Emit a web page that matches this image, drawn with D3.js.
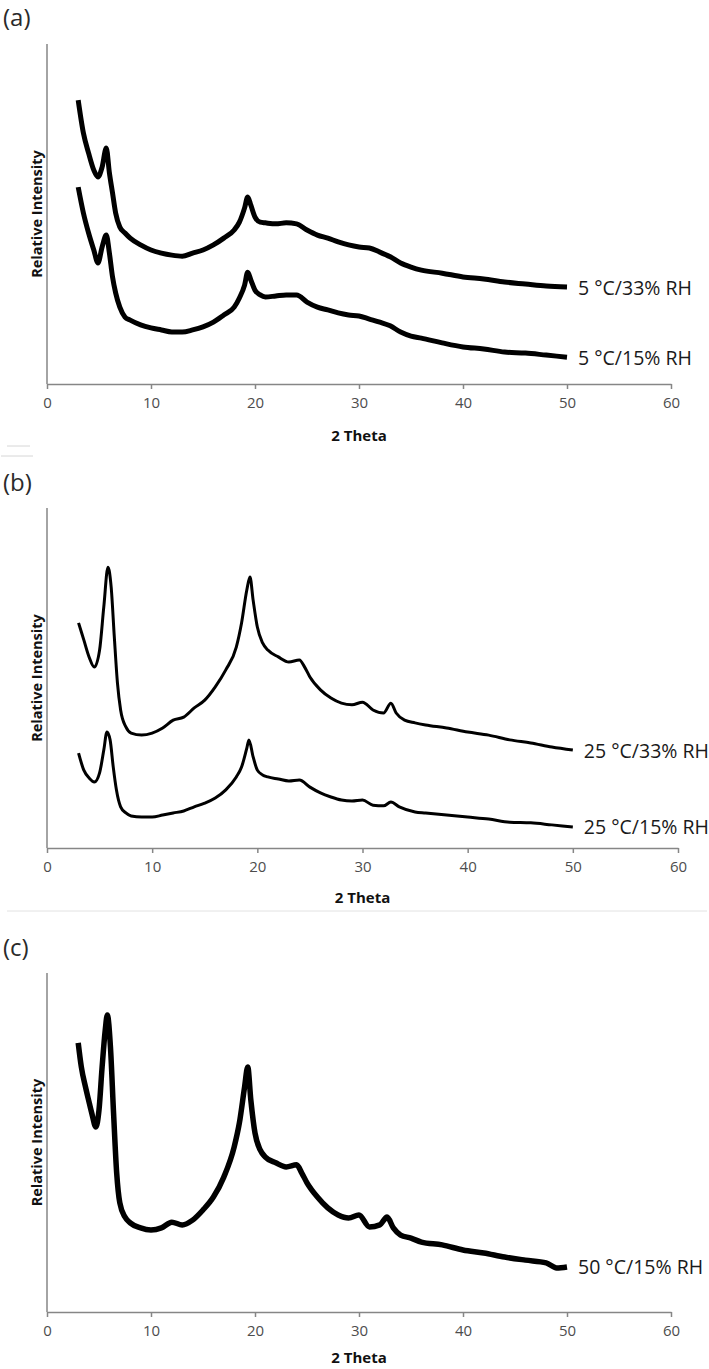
<!DOCTYPE html>
<html>
<head>
<meta charset="utf-8">
<script src="https://cdn.jsdelivr.net/npm/d3@7"></script>
<style>
body { margin: 0; background: #fff; }
</style>
</head>
<body>
<div id="chart"></div>
<script>
// 2 Theta positions and relative intensities
var thetaA = [3, 3.5, 4, 4.5, 4.9, 5.3, 5.7, 6, 6.3, 6.6, 7, 7.5, 8, 9, 10, 11, 12, 13, 14, 15, 16, 17, 18, 18.5, 19, 19.3, 19.6, 20, 20.5, 21, 22, 23, 24, 25, 26, 27, 28, 29, 30, 31, 32, 33, 34, 35, 36, 38, 40, 42, 44, 46, 48, 50];
var a33 = [83.5, 73.8, 67.9, 62.9, 60.9, 63.8, 69.4, 62.1, 56.2, 50.3, 46.2, 44.4, 42.9, 40.9, 39.4, 38.5, 37.9, 37.6, 38.5, 39.4, 40.9, 42.9, 45.3, 47.6, 51.8, 55.0, 52.6, 49.1, 47.6, 47.4, 47.1, 47.4, 47.1, 45.3, 43.8, 42.9, 41.8, 40.9, 40.3, 40.0, 38.8, 37.4, 35.6, 34.4, 33.5, 32.6, 31.5, 30.9, 30.0, 29.4, 28.8, 28.5];
var a15 = [57.9, 50.3, 44.4, 39.4, 35.6, 40.3, 43.8, 38.5, 31.5, 26.8, 22.6, 19.7, 18.8, 17.4, 16.5, 15.9, 15.3, 15.3, 15.9, 16.8, 18.2, 20.3, 22.6, 25.3, 29.1, 32.9, 30.6, 27.6, 26.2, 25.6, 25.9, 26.2, 26.2, 24.1, 22.6, 21.8, 20.9, 20.3, 20.0, 19.1, 18.2, 17.1, 15.3, 14.1, 13.5, 12.1, 10.9, 10.3, 9.4, 9.1, 8.5, 7.9];

var thetaB33 = [3, 3.5, 4, 4.5, 5, 5.4, 5.8, 6.1, 6.4, 6.7, 7, 7.5, 8, 9, 10, 11, 12, 13, 14, 15, 16, 17, 18, 18.5, 19, 19.3, 19.6, 20, 20.5, 21, 22, 23, 24, 24.5, 25, 26, 27, 28, 29, 30, 31, 32, 32.7, 33.2, 34, 35, 36, 38, 40, 42, 44, 46, 48, 50];
var b33 = [66.2, 61.2, 56.2, 53.2, 58.2, 70.9, 82.6, 76.8, 62.1, 48.5, 40.6, 35.6, 33.8, 33.2, 33.8, 35.3, 37.6, 38.5, 41.2, 43.5, 47.4, 52.4, 59.1, 66.2, 75.9, 79.7, 72.9, 65.0, 60.3, 58.2, 56.2, 54.7, 55.3, 53.2, 50.3, 46.5, 44.1, 42.6, 42.1, 42.9, 40.6, 39.7, 42.6, 39.7, 37.6, 36.8, 36.2, 35.3, 34.1, 33.2, 31.8, 30.9, 29.7, 28.8];
var thetaB15 = [3, 3.5, 4, 4.5, 5, 5.4, 5.7, 6, 6.3, 6.6, 7, 7.5, 8, 9, 10, 11, 12, 13, 14, 15, 16, 17, 18, 18.5, 19, 19.2, 19.6, 20, 20.5, 21, 22, 23, 24, 25, 26, 27, 28, 29, 30, 31, 32, 32.7, 33.5, 35, 36, 38, 40, 42, 44, 46, 48, 50];
var b15 = [27.9, 22.9, 20.6, 19.4, 22.1, 28.8, 34.1, 31.8, 23.8, 17.1, 12.1, 10.3, 9.4, 9.1, 9.1, 9.7, 10.3, 10.9, 12.1, 13.2, 14.7, 17.1, 20.9, 23.8, 29.4, 31.8, 26.8, 22.9, 21.5, 20.9, 20.3, 19.7, 20.0, 17.9, 16.2, 15.0, 14.1, 13.8, 14.1, 12.6, 12.4, 13.5, 12.1, 10.6, 10.3, 9.7, 9.1, 8.5, 7.6, 7.4, 6.8, 6.2];

var thetaC = [3, 3.3, 3.7, 4, 4.3, 4.7, 5, 5.3, 5.6, 5.8, 6.1, 6.4, 6.7, 7, 7.5, 8, 9, 10, 11, 12, 13, 14, 15, 16, 17, 18, 18.5, 19, 19.3, 19.6, 20, 20.5, 21, 22, 23, 24, 24.5, 25, 26, 27, 28, 29, 30, 31, 32, 32.7, 33.3, 34, 35, 36, 38, 40, 42, 44, 46, 48, 49, 50];
var c15 = [79.4, 72.3, 66.4, 62.5, 58.7, 54.6, 59.6, 72.3, 83.2, 87.6, 78.2, 58.7, 41.0, 32.2, 28.0, 26.3, 24.8, 24.2, 24.8, 26.5, 25.7, 27.1, 30.1, 33.9, 39.8, 48.7, 55.8, 66.4, 72.3, 62.5, 52.8, 47.8, 45.7, 44.0, 42.8, 43.4, 41.0, 38.1, 33.9, 30.7, 28.6, 27.7, 28.6, 25.1, 25.7, 28.0, 24.8, 22.7, 21.8, 20.6, 19.8, 18.3, 17.4, 16.2, 15.3, 14.5, 13.0, 13.3];

var xTicks = [0, 10, 20, 30, 40, 50, 60];
var seriesNames = ['5 °C/33% RH', '5 °C/15% RH', '25 °C/33% RH', '25 °C/15% RH', '50 °C/15% RH'];

var svg = d3.select('#chart')
  .append('svg')
  .attr('width', 709)
  .attr('height', 1369)
  .style('font-family', '"Open Sans", sans-serif');

// light separators between the panels
svg.append('line').attr('x1', 7).attr('x2', 30).attr('y1', 446).attr('y2', 446).style('stroke', '#d6d6d6');
svg.append('line').attr('x1', 1).attr('x2', 33).attr('y1', 456).attr('y2', 456).style('stroke', '#d6d6d6');
svg.append('line').attr('x1', 7).attr('x2', 707).attr('y1', 911).attr('y2', 911).style('stroke', '#e2e2e2');

function drawPanel(p) {
  var x = d3.scaleLinear().domain([0, 60]).range([47, p.right]);
  var y = d3.scaleLinear().domain([0, 100]).range([p.bottom, p.top]);

  svg.append('text')
    .attr('x', 3)
    .attr('y', p.tagY)
    .attr('dominant-baseline', 'central')
    .style('font-size', '24px')
    .style('fill', '#2a2a2a')
    .text(p.tag);

  // y axis: plain line, no ticks
  svg.append('line')
    .attr('x1', x(0)).attr('x2', x(0))
    .attr('y1', y(100)).attr('y2', y(0))
    .style('stroke', '#868686')
    .style('stroke-width', 1.5);

  var xAxis = svg.append('g')
    .attr('transform', 'translate(0,' + p.bottom + ')')
    .call(d3.axisBottom(x).tickValues(xTicks).tickSizeInner(5).tickSizeOuter(0).tickPadding(8));
  xAxis.select('.domain').style('stroke', '#868686').style('stroke-width', 1.5);
  xAxis.selectAll('.tick line').style('stroke', '#868686').style('stroke-width', 1.5);
  xAxis.selectAll('.tick text')
    .style('font-size', '15px')
    .style('font-family', '"Open Sans", sans-serif')
    .style('fill', '#4d4d4d');

  svg.append('text')
    .attr('x', (x(0) + x(60)) / 2)
    .attr('y', p.titleY)
    .attr('text-anchor', 'middle')
    .attr('dominant-baseline', 'central')
    .style('font-size', '15px')
    .style('font-weight', 'bold')
    .style('fill', '#111')
    .text('2 Theta');

  svg.append('text')
    .attr('transform', 'translate(36,' + ((p.top + p.bottom) / 2) + ') rotate(-90)')
    .attr('text-anchor', 'middle')
    .attr('dominant-baseline', 'central')
    .style('font-size', '14.5px')
    .style('font-weight', 'bold')
    .style('fill', '#111')
    .text('Relative Intensity');

  var line = d3.line()
    .x(function(d) { return x(d[0]); })
    .y(function(d) { return y(d[1]); })
    .curve(d3.curveMonotoneX);

  p.series.forEach(function(s) {
    var pts = d3.zip(s.theta, s.values);
    svg.append('path')
      .datum(pts)
      .attr('d', line)
      .style('fill', 'none')
      .style('stroke', '#000')
      .style('stroke-width', s.width)
      .style('stroke-linejoin', 'round');

    var last = pts[pts.length - 1];
    svg.append('text')
      .attr('x', x(last[0]) + 11)
      .attr('y', y(last[1]))
      .attr('dominant-baseline', 'central')
      .style('font-size', '19.5px')
      .style('fill', '#1a1a1a')
      .text(s.label);
  });
}

drawPanel({
  tag: '(a)', tagY: 16, top: 44, bottom: 384, right: 671, titleY: 435,
  series: [
    {theta: thetaA, values: a33, label: seriesNames[0], width: 5},
    {theta: thetaA, values: a15, label: seriesNames[1], width: 5}
  ]
});

drawPanel({
  tag: '(b)', tagY: 481, top: 508, bottom: 848, right: 678, titleY: 897,
  series: [
    {theta: thetaB33, values: b33, label: seriesNames[2], width: 3},
    {theta: thetaB15, values: b15, label: seriesNames[3], width: 3}
  ]
});

drawPanel({
  tag: '(c)', tagY: 946, top: 973, bottom: 1312, right: 671, titleY: 1357,
  series: [
    {theta: thetaC, values: c15, label: seriesNames[4], width: 5.5}
  ]
});
</script>
</body>
</html>
